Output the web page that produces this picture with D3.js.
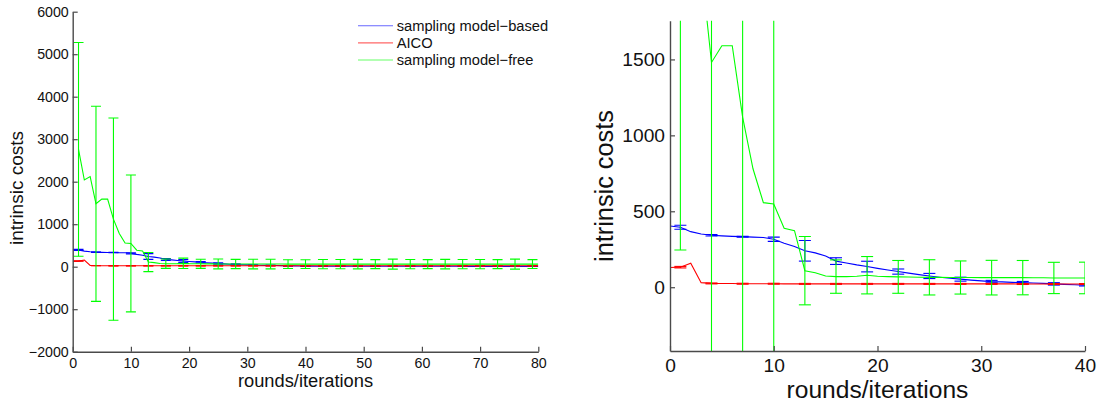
<!DOCTYPE html>
<html>
<head>
<meta charset="utf-8">
<script src="https://cdn.jsdelivr.net/npm/d3@7"></script>
<style>
  html, body { margin: 0; padding: 0; background: #fff; }
  svg { display: block; font-family: "Liberation Sans", Arial, Helvetica, sans-serif; }
</style>
</head>
<body>
<svg id="chart" width="1101" height="403"></svg>
<script>
// ---------------- data ----------------
const seriesNames = ["sampling model\u2212based", "AICO", "sampling model\u2212free"];
const seriesColors = ["#0000ff", "#ff0000", "#00ff00"];

// iteration index for blue / red (0..80)
const iterAll = d3.range(0, 81);
// iteration index for green (1..80)
const iterGreen = d3.range(1, 81);

const modelBased = [
  403, 395, 366, 350, 342, 338, 335, 333, 330, 327,
  316, 290, 268, 240, 226, 205, 172, 160, 147, 136,
  124, 113, 103, 93, 83, 74, 66, 59, 53, 47,
  42, 37, 35, 32, 30, 28, 25, 22, 19, 16,
  13, 13, 12, 12, 12, 11, 11, 11, 11, 10,
  10, 10, 10, 10, 10, 10, 9, 9, 9, 9,
  9, 9, 9, 9, 9, 9, 9, 8, 8, 8,
  8, 8, 8, 8, 8, 8, 8, 8, 8, 8, 8
];
const aico = [
  130, 132, 158, 30, 25, 24, 24, 23, 23, 23,
  23, 22, 22, 22, 22, 22, 22, 22, 22, 22,
  22, 22, 22, 22, 22, 22, 22, 22, 22, 22,
  22, 22, 22, 22, 21, 21, 21, 21, 21, 21,
  21, 21, 21, 21, 21, 21, 21, 21, 21, 21,
  21, 21, 21, 21, 21, 21, 21, 21, 21, 21,
  21, 21, 21, 21, 21, 21, 21, 21, 21, 21,
  21, 21, 21, 21, 21, 21, 21, 21, 21, 21, 21
];
const modelFree = [
  2760, 2040, 2120, 1480, 1590, 1590, 1120, 780, 557, 548,
  388, 372, 109, 95, 74, 70, 70, 72, 79, 72,
  70, 68, 67, 66, 65, 65, 64, 64, 64, 63,
  63, 63, 63, 63, 62, 62, 61, 61, 61, 61,
  61, 61, 61, 61, 61, 61, 61, 61, 61, 61,
  61, 61, 61, 61, 61, 61, 61, 61, 61, 61,
  61, 61, 61, 61, 61, 61, 61, 61, 61, 61,
  61, 61, 61, 61, 61, 61, 61, 61, 61, 60
];

// error bars, at iterations 1, 4, 7, ..., 79
const errIter = d3.range(1, 80, 3);
const errModelBased = [13, 5, 3, 14, 68, 22, 35, 17, 17, 13, 8, 8, 8, 5, 4, 4, 4, 4, 4, 4, 4, 4, 4, 4, 4, 4, 4];
const errAico = [5, 3, 3, 3, 3, 3, 3, 3, 3, 3, 3, 3, 3, 3, 3, 3, 3, 3, 3, 3, 3, 3, 3, 3, 3, 3, 3];
const errModelFree = [2515, 2295, 2380, 1610, 225, 110, 123, 108, 116, 109, 114, 113, 103, 104,
  110, 108, 112, 106, 118, 110, 106, 112, 108, 110, 106, 118, 105];

// tick labels
const leftXTicks = [0, 10, 20, 30, 40, 50, 60, 70, 80];
const leftYTicks = [-2000, -1000, 0, 1000, 2000, 3000, 4000, 5000, 6000];
const rightXTicks = [0, 10, 20, 30, 40];
const rightYTicks = [0, 500, 1000, 1500];
const xLabel = "rounds/iterations";
const yLabel = "intrinsic costs";

// ---------------- build ----------------
const series = [
  { name: seriesNames[0], color: seriesColors[0], x: iterAll, y: modelBased, err: errModelBased },
  { name: seriesNames[1], color: seriesColors[1], x: iterAll, y: aico, err: errAico },
  { name: seriesNames[2], color: seriesColors[2], x: iterGreen, y: modelFree, err: errModelFree }
];

const svg = d3.select("#chart");
const axisColor = "#4a4a4a";

function panel(cfg) {
  const g = svg.append("g");
  const x = d3.scaleLinear().domain(cfg.xDomain).range(cfg.xRange);
  const y = d3.scaleLinear().domain(cfg.yDomain).range(cfg.yRange);

  const clipId = "clip" + cfg.id;
  svg.append("defs").append("clipPath").attr("id", clipId)
    .append("rect")
    .attr("x", cfg.xRange[0]).attr("y", cfg.yRange[1])
    .attr("width", cfg.xRange[1] - cfg.xRange[0])
    .attr("height", cfg.yRange[0] - cfg.yRange[1]);

  const plot = g.append("g").attr("clip-path", `url(#${clipId})`);

  series.forEach(s => {
    const pts = s.x.map((xi, i) => [xi, s.y[i]]).filter(p => p[0] <= cfg.xDomain[1]);
    plot.append("path")
      .datum(pts)
      .attr("fill", "none")
      .attr("stroke", s.color)
      .attr("stroke-width", 1.1)
      .attr("d", d3.line().x(d => x(d[0])).y(d => y(d[1])));

    // error bars
    const lookup = new Map(s.x.map((xi, i) => [xi, s.y[i]]));
    const eb = errIter.map((xi, i) => ({ x: xi, m: lookup.get(xi), e: s.err[i] }))
      .filter(d => d.x <= cfg.xDomain[1] && d.m !== undefined);
    const hw = cfg.capHalf;
    const ebg = plot.append("g").attr("stroke", s.color).attr("stroke-width", 1.1);
    eb.forEach(d => {
      const px = x(d.x), yt = y(d.m + d.e), yb = y(d.m - d.e);
      ebg.append("line").attr("x1", px).attr("x2", px).attr("y1", yt).attr("y2", yb);
      ebg.append("line").attr("x1", px - hw).attr("x2", px + hw).attr("y1", yt).attr("y2", yt);
      ebg.append("line").attr("x1", px - hw).attr("x2", px + hw).attr("y1", yb).attr("y2", yb);
    });
  });

  // axes
  const xAxis = d3.axisBottom(x).tickValues(cfg.xTicks).tickSizeInner(-5).tickSizeOuter(0)
    .tickPadding(cfg.xPad).tickFormat(d3.format("d"));
  const yAxis = d3.axisLeft(y).tickValues(cfg.yTicks).tickSizeInner(-5).tickSizeOuter(0)
    .tickPadding(cfg.yPad).tickFormat(d => d < 0 ? "\u2212" + Math.abs(d) : String(d));

  const gx = g.append("g").attr("transform", `translate(0,${cfg.yRange[0]})`).call(xAxis);
  const gy = g.append("g").attr("transform", `translate(${cfg.xRange[0]},0)`).call(yAxis);
  [gx, gy].forEach(a => {
    a.select(".domain").attr("stroke", axisColor).attr("stroke-width", 1.4);
    a.selectAll(".tick line").attr("stroke", axisColor).attr("stroke-width", 1.2);
    a.selectAll("text").attr("fill", "#111").attr("font-size", cfg.tickFont)
      .attr("font-family", "Liberation Sans, Arial, sans-serif");
  });

  // axis titles
  g.append("text")
    .attr("x", (cfg.xRange[0] + cfg.xRange[1]) / 2)
    .attr("y", cfg.xLabelY)
    .attr("text-anchor", "middle")
    .attr("font-size", cfg.labelFont)
    .attr("fill", "#111")
    .text(xLabel);
  g.append("text")
    .attr("transform", `translate(${cfg.yLabelX},${cfg.yLabelCY}) rotate(-90)`)
    .attr("text-anchor", "middle")
    .attr("font-size", cfg.yLabelFont)
    .attr("fill", "#111")
    .text(yLabel);

  return { g, x, y };
}

panel({
  id: "L", xDomain: [0, 80], yDomain: [-2000, 6000],
  xRange: [72.7, 538.3], yRange: [351.7, 11.7],
  xTicks: leftXTicks, yTicks: leftYTicks,
  tickFont: 14.2, labelFont: 18.3, yLabelFont: 19,
  xPad: 6, yPad: 4,
  capHalf: 5,
  xLabelY: 386.5, yLabelX: 23.3, yLabelCY: 188
});

panel({
  id: "R", xDomain: [0, 40], yDomain: [-420, 1755],
  xRange: [670, 1085], yRange: [351, 20.7],
  xTicks: rightXTicks, yTicks: rightYTicks,
  tickFont: 19.2, labelFont: 24.6, yLabelFont: 25.3,
  xPad: 7.5, yPad: 5,
  capHalf: 6,
  xLabelY: 398, yLabelX: 613, yLabelCY: 186
});

// legend (inside left panel, top right)
const legend = svg.append("g").attr("class", "legend");
series.forEach((s, i) => {
  const ly = 25.7 + i * 17.15;
  legend.append("line")
    .attr("x1", 358).attr("x2", 393).attr("y1", ly).attr("y2", ly)
    .attr("stroke", s.color).attr("stroke-width", 1.1).attr("stroke-opacity", 0.6);
  legend.append("text")
    .attr("x", 396.7).attr("y", ly + 5)
    .attr("font-size", 14.7).attr("fill", "#111")
    .text(s.name);
});
</script>
</body>
</html>
